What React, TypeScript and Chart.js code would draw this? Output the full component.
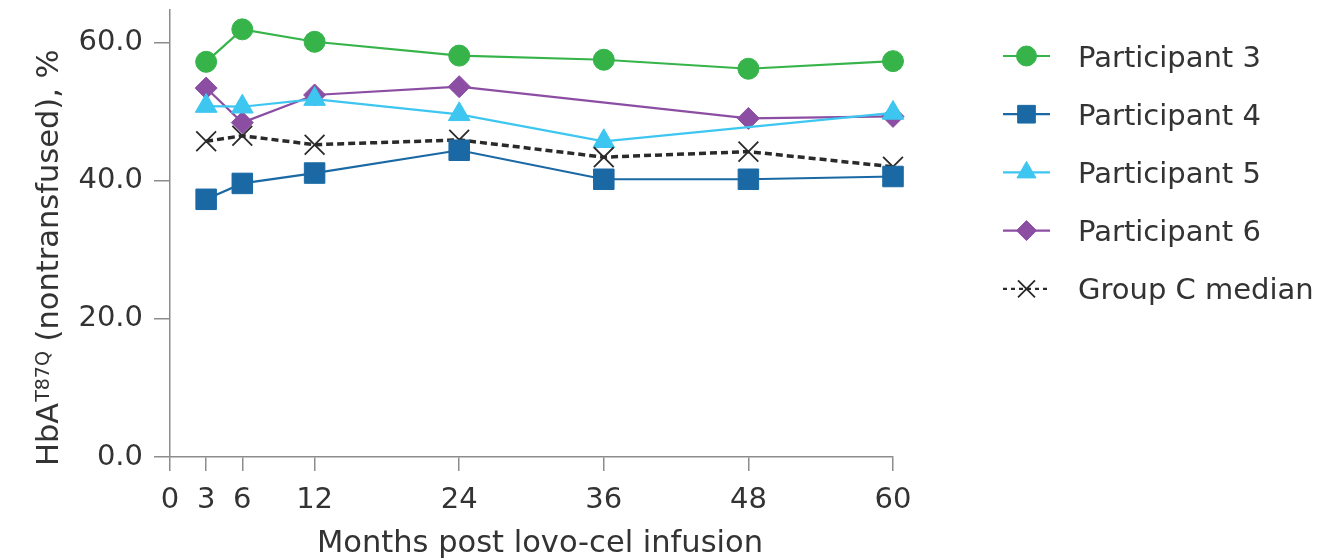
import React, { useEffect, useRef } from 'react';
import { Chart, registerables, PointElement } from 'chart.js';

Chart.register(...registerables);

// ---- data ----
const months = [3, 6, 12, 24, 36, 48, 60];
const participant3 = [57.2, 61.9, 60.1, 58.1, 57.5, 56.2, 57.3];
const participant4 = [37.3, 39.6, 41.1, 44.4, 40.2, 40.2, 40.6];
const participant5 = [50.8, 50.7, 51.8, 49.6, 45.7, null, 49.8];
const participant6 = [53.4, 48.4, 52.4, 53.6, null, 49.0, 49.3];
const groupCMedian = [45.7, 46.5, 45.2, 45.9, 43.4, 44.2, 42.0];
const xTicks = [0, 3, 6, 12, 24, 36, 48, 60];
const yTicks = [0, 20, 40, 60];
const seriesLabels = ['Participant 3', 'Participant 4', 'Participant 5', 'Participant 6', 'Group C median'];
const xTitle = 'Months post lovo-cel infusion';
const yTitleMain = 'HbA';
const yTitleSup = 'T87Q';
const yTitleRest = ' (nontransfused), %';

const FONT = '"DejaVu Sans", sans-serif';
const TEXT = '#333333';
const AXIS = '#8c8c8c';

const toPoints = (vals: (number | null)[]) => months.map((m, i) => ({ x: m, y: vals[i] }));

const styles = [
  { color: '#36b44a', style: 'circle', radius: 10.5, legendRadius: 10, width: 2.2, dash: [] as number[], order: 0 },
  { color: '#1a69a4', style: 'rect', radius: 14.5, legendRadius: 12.5, width: 2.2, dash: [] as number[], order: 1 },
  { color: '#3dc6f0', style: 'triangle', radius: 12.5, legendRadius: 11, width: 2.2, dash: [] as number[], order: 3 },
  { color: '#8b4ea3', style: 'rectRot', radius: 11, legendRadius: 10, width: 2.2, dash: [] as number[], order: 4 },
  { color: '#2a2a2a', style: 'crossRot', radius: 14, legendRadius: 12, width: 3.5, dash: [7, 4], order: 2 },
];
const seriesValues = [participant3, participant4, participant5, participant6, groupCMedian];

const decorPlugin = {
  id: 'decor',
  afterDraw(chart: any) {
    const ctx = chart.ctx as CanvasRenderingContext2D;
    // Legend
    styles.forEach((s, i) => {
      const cy = 56 + i * 58.2;
      ctx.save();
      ctx.strokeStyle = s.color;
      ctx.lineWidth = 2.2;
      ctx.setLineDash(i === 4 ? [4, 4] : []);
      ctx.beginPath();
      ctx.moveTo(1003, cy);
      ctx.lineTo(1050, cy);
      ctx.stroke();
      ctx.setLineDash([]);
      const pt: any = new (PointElement as any)({
        x: 1026.5,
        y: cy,
        options: {
          pointStyle: s.style,
          radius: s.legendRadius,
          rotation: 0,
          borderWidth: i === 4 ? 1.8 : 1,
          backgroundColor: i === 4 ? 'rgba(0,0,0,0)' : s.color,
          borderColor: s.color,
        },
      });
      pt.draw(ctx);
      ctx.restore();
      ctx.save();
      ctx.fillStyle = TEXT;
      ctx.font = `29px ${FONT}`;
      ctx.textAlign = 'left';
      ctx.textBaseline = 'alphabetic';
      ctx.fillText(seriesLabels[i], 1078, cy + 10.5);
      ctx.restore();
    });

    // X title
    ctx.save();
    ctx.fillStyle = TEXT;
    ctx.font = `30.5px ${FONT}`;
    ctx.textAlign = 'center';
    ctx.textBaseline = 'alphabetic';
    ctx.fillText(xTitle, 540, 551.5);
    ctx.restore();

    // Y title with superscript
    ctx.save();
    ctx.translate(58, 466);
    ctx.rotate(-Math.PI / 2);
    ctx.fillStyle = TEXT;
    ctx.textAlign = 'left';
    ctx.textBaseline = 'alphabetic';
    ctx.font = `30.5px ${FONT}`;
    let x = 0;
    ctx.fillText(yTitleMain, x, 0);
    x += ctx.measureText(yTitleMain).width + 1;
    ctx.font = `19px ${FONT}`;
    ctx.fillText(yTitleSup, x, -9);
    x += ctx.measureText(yTitleSup).width;
    ctx.font = `30.5px ${FONT}`;
    ctx.fillText(yTitleRest, x, 0);
    ctx.restore();
  },
};

export default function App() {
  const ref = useRef<HTMLCanvasElement | null>(null);

  useEffect(() => {
    if (!ref.current) return;
    const datasets = styles.map((s, i) => ({
      label: seriesLabels[i],
      data: toPoints(seriesValues[i]),
      borderColor: s.color,
      backgroundColor: s.color,
      borderWidth: s.width,
      borderDash: s.dash,
      pointStyle: s.style,
      pointRadius: s.radius,
      pointBorderWidth: i === 4 ? 1.8 : 1,
      pointBackgroundColor: i === 4 ? 'rgba(0,0,0,0)' : s.color,
      pointBorderColor: s.color,
      spanGaps: true,
      tension: 0,
      fill: false,
      clip: false,
      order: s.order,
    }));

    const chart = new Chart(ref.current, {
      type: 'line',
      data: { datasets } as any,
      options: {
        responsive: false,
        animation: false,
        layout: { autoPadding: false, padding: { left: 0, top: 10, right: 449, bottom: 0 } },
        plugins: { legend: { display: false }, tooltip: { enabled: false } },
        scales: {
          x: {
            type: 'linear',
            min: 0,
            max: 60,
            afterBuildTicks: (s: any) => {
              s.ticks = xTicks.map((v) => ({ value: v }));
            },
            afterFit: (s: any) => {
              s.height = 101;
              s.paddingLeft = 0;
              s.paddingRight = 0;
            },
            ticks: {
              autoSkip: false,
              maxRotation: 0,
              padding: 12,
              color: TEXT,
              font: { family: FONT, size: 29 },
              callback: (v: any) => String(v),
            },
            grid: { drawOnChartArea: false, drawTicks: true, tickLength: 14, color: AXIS, lineWidth: 1.5 },
            border: { display: true, color: AXIS, width: 1.5 },
          },
          y: {
            type: 'linear',
            min: 0,
            max: 64.7,
            afterBuildTicks: (s: any) => {
              s.ticks = yTicks.map((v) => ({ value: v }));
            },
            afterFit: (s: any) => {
              s.width = 170;
              s.paddingTop = 0;
              s.paddingBottom = 0;
            },
            ticks: {
              padding: 11,
              color: TEXT,
              font: { family: FONT, size: 29 },
              callback: (v: any) => Number(v).toFixed(1),
            },
            grid: { drawOnChartArea: false, drawTicks: true, tickLength: 16, color: AXIS, lineWidth: 1.5 },
            border: { display: true, color: AXIS, width: 1.5 },
          },
        },
      } as any,
      plugins: [decorPlugin],
    });
    return () => chart.destroy();
  }, []);

  return (
    <div style={{ position: 'fixed', left: 0, top: 0, width: 1342, height: 558, background: '#fff' }}>
      <canvas ref={ref} width={1342} height={558} style={{ display: 'block' }} />
    </div>
  );
}
